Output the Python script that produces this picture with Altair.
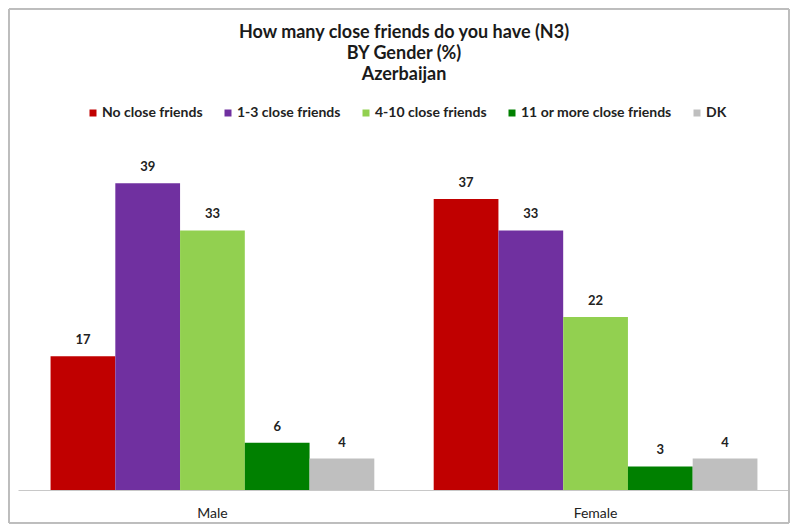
import altair as alt
import pandas as pd

genders = ["Male", "Female"]
categories = ["No close friends", "1-3 close friends", "4-10 close friends",
              "11 or more close friends", "DK"]
male_values = [17, 39, 33, 6, 4]
female_values = [37, 33, 22, 3, 4]
colors = ["#C00000", "#7030A0", "#92D050", "#008000", "#BFBFBF"]
title_lines = ["How many close friends do you have (N3)", "BY Gender (%)", "Azerbaijan"]

rows = []
for g, vals in zip(genders, [male_values, female_values]):
    for c, v in zip(categories, vals):
        rows.append({"Gender": g, "Category": c, "Value": v})
df = pd.DataFrame(rows)

FONT = "Lato"

x = alt.X("Gender:N", sort=genders, title=None,
          scale=alt.Scale(paddingInner=0.155, paddingOuter=0.085),
          axis=alt.Axis(labelAngle=0, ticks=False, labelPadding=16, labelFontSize=14,
                        labelFont=FONT, labelColor="#222", domainColor="#C8C8C8", domainWidth=1))
xo = alt.XOffset("Category:N", sort=categories, scale=alt.Scale(domain=categories, paddingInner=0, paddingOuter=0))
y = alt.Y("Value:Q", scale=alt.Scale(domain=[0, 44.5], nice=False, zero=True), axis=None)

bars = alt.Chart(df).mark_bar().encode(
    x=x, xOffset=xo, y=y,
    color=alt.Color("Category:N", sort=categories,
                    scale=alt.Scale(domain=categories, range=colors),
                    legend=alt.Legend(title=None, orient="none", direction="horizontal",
                                      legendX=68, legendY=-34, symbolType="square",
                                      symbolSize=49, symbolStrokeWidth=0,
                                      labelFont=FONT, labelFontSize=14, labelFontWeight="bold",
                                      labelColor="#222", columnPadding=18, labelOffset=2)),
)

labels = alt.Chart(df).mark_text(dy=-9, baseline="bottom", font=FONT, fontSize=13,
                                  fontWeight="bold", color="#222").encode(
    x=x, xOffset=xo, y=y, text=alt.Text("Value:Q"),
)

frame = alt.Chart(df).mark_rect(fill=None, stroke="#BDBDBD", strokeWidth=1, clip=False).encode(
    x=alt.value(-9), x2=alt.value(771), y=alt.value(-131), y2=alt.value(383)
)

chart = alt.layer(frame, bars, labels).properties(
    width=772, height=350,
    padding={"left": 10, "top": 132, "right": 0, "bottom": 35},
    autosize=alt.AutoSizeParams(type="none"),
    title=alt.TitleParams(text=title_lines, font=FONT, fontSize=18, fontWeight="bold",
                          color="#1a1a1a", lineHeight=21, anchor="middle", frame="group",
                          baseline="alphabetic", offset=-89),
).configure_view(stroke=None)

chart.save("out.html", embed_options={"renderer": "svg", "actions": False})
